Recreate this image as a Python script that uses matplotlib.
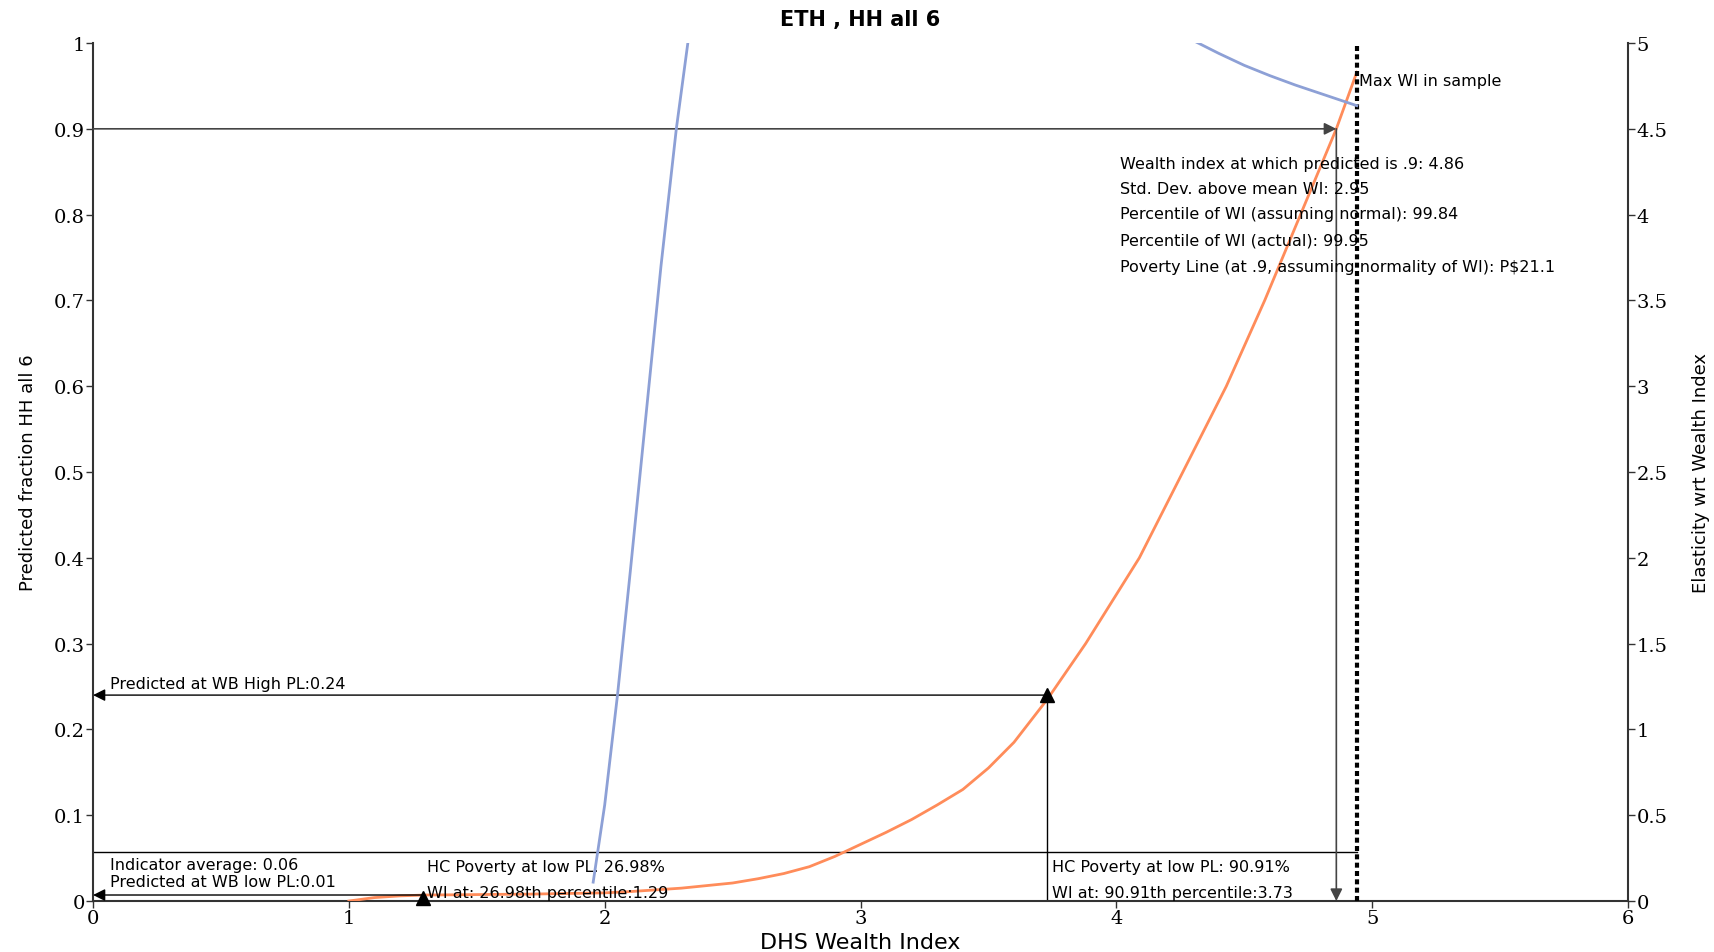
import numpy as np
import matplotlib
matplotlib.use('Agg')
import matplotlib.pyplot as plt

##############################################################################
# DATA
title = 'ETH , HH all 6'
x_label = 'DHS Wealth Index'
y_label_left = 'Predicted fraction HH all 6'
y_label_right = 'Elasticity wrt Wealth Index'

# predicted fraction (orange, left axis)
wi_pred = [1.00, 1.10, 1.20, 1.30, 1.40, 1.50, 1.60, 1.70, 1.80, 1.90,
           2.00, 2.10, 2.20, 2.30, 2.40, 2.50, 2.60, 2.70, 2.80, 2.90,
           3.00, 3.10, 3.20, 3.30, 3.40, 3.50, 3.60, 3.73, 3.88, 4.09,
           4.26, 4.43, 4.58, 4.72, 4.86, 4.94]
pred = [0.000, 0.004, 0.006, 0.007, 0.0072, 0.0075, 0.0078, 0.008, 0.0085, 0.009,
        0.0095, 0.011, 0.013, 0.015, 0.018, 0.021, 0.026, 0.032, 0.040, 0.052,
        0.066, 0.080, 0.095, 0.112, 0.130, 0.155, 0.185, 0.235, 0.300, 0.400,
        0.500, 0.600, 0.700, 0.800, 0.900, 0.966]

# elasticity (blue, right axis), two visible pieces, clipped at 5
wi_elast_1 = [1.955, 2.00, 2.05, 2.10, 2.16, 2.22, 2.28, 2.325, 2.36]
elast_1 = [0.11, 0.56, 1.20, 1.92, 2.81, 3.70, 4.50, 5.00, 5.40]
wi_elast_2 = [4.28, 4.32, 4.40, 4.50, 4.60, 4.70, 4.80, 4.94]
elast_2 = [5.03, 5.00, 4.94, 4.87, 4.81, 4.755, 4.705, 4.635]

# summary values
max_wi = 4.94
wi_at_09 = 4.86
indicator_avg = 0.0576
wb_low_wi = 1.29
wb_low_pred = 0.007
wb_high_wi = 3.73
wb_high_pred = 0.24

info_lines = ['Wealth index at which predicted is .9: 4.86',
              'Std. Dev. above mean WI: 2.95',
              'Percentile of WI (assuming normal): 99.84',
              'Percentile of WI (actual): 99.95',
              'Poverty Line (at .9, assuming normality of WI): P$21.1']

left_ticks = [0, 0.1, 0.2, 0.3, 0.4, 0.5, 0.6, 0.7, 0.8, 0.9, 1]
left_ticklabels = ['0', '0.1', '0.2', '0.3', '0.4', '0.5', '0.6', '0.7', '0.8', '0.9', '1']
right_ticks = [0, 0.5, 1, 1.5, 2, 2.5, 3, 3.5, 4, 4.5, 5]
right_ticklabels = ['0', '0.5', '1', '1.5', '2', '2.5', '3', '3.5', '4', '4.5', '5']
x_ticks = [0, 1, 2, 3, 4, 5, 6]

##############################################################################
# STYLE
orange = '#FF8C5A'
blue = '#8DA0D6'
tick_font = dict(family='DejaVu Serif', size=14)
note_size = 11.5

##############################################################################
# PLOT
fig = plt.figure(figsize=(17.14, 9.53), dpi=100)
ax = fig.add_axes([0.0543, 0.0535, 0.8955, 0.9003])
ax2 = ax.twinx()

ax.set_xlim(0, 6)
ax.set_ylim(0, 1)
ax2.set_ylim(0, 5)

ax.plot(wi_pred, pred, color=orange, lw=2, zorder=3)
ax2.plot(wi_elast_1, elast_1, color=blue, lw=2)
ax2.plot(wi_elast_2, elast_2, color=blue, lw=2)

# max WI dashed line
ax.plot([max_wi, max_wi], [0, 1], color='black', lw=3, linestyle=(0, (1.2, 0.8)), zorder=4)
ax.text(max_wi + 0.01, 0.956, 'Max WI in sample', fontsize=note_size, va='center')

# predicted .9 arrows
arrow_kw = dict(arrowstyle='-|>', mutation_scale=18, shrinkA=0, shrinkB=0)
ax.annotate('', xy=(wi_at_09, 0.9), xytext=(0, 0.9),
            arrowprops=dict(color='#444444', lw=1.2, **arrow_kw))
ax.annotate('', xy=(wi_at_09, 0), xytext=(wi_at_09, 0.9),
            arrowprops=dict(color='#444444', lw=1.2, **arrow_kw))
info_y = [0.860, 0.831, 0.801, 0.771, 0.740]
for txt, yy in zip(info_lines, info_y):
    ax.text(4.015, yy, txt, fontsize=note_size, va='center')

# indicator average
ax.plot([0, max_wi], [indicator_avg, indicator_avg], color='black', lw=1)
ax.text(0.066, 0.042, 'Indicator average: 0.06', fontsize=note_size, va='center')
ax.text(0.066, 0.023, 'Predicted at WB low PL:0.01', fontsize=note_size, va='center')

# WB low PL
ax.annotate('', xy=(0, wb_low_pred), xytext=(wb_low_wi, wb_low_pred),
            arrowprops=dict(color='black', lw=1, **arrow_kw))
ax.plot(wb_low_wi, 0.004, marker='^', color='black', markersize=10, clip_on=False, zorder=5)
ax.text(1.307, 0.040, 'HC Poverty at low PL: 26.98%', fontsize=note_size, va='center')
ax.text(1.307, 0.0105, 'WI at: 26.98th percentile:1.29', fontsize=note_size, va='center')

# WB high PL
ax.annotate('', xy=(0, wb_high_pred), xytext=(wb_high_wi, wb_high_pred),
            arrowprops=dict(color='black', lw=1, **arrow_kw))
ax.plot([wb_high_wi, wb_high_wi], [0, wb_high_pred], color='black', lw=1)
ax.plot(wb_high_wi, wb_high_pred, marker='^', color='black', markersize=10, zorder=5)
ax.text(0.066, 0.253, 'Predicted at WB High PL:0.24', fontsize=note_size, va='center')
ax.text(3.748, 0.040, 'HC Poverty at low PL: 90.91%', fontsize=note_size, va='center')
ax.text(3.748, 0.0105, 'WI at: 90.91th percentile:3.73', fontsize=note_size, va='center')

# axes styling
for a in (ax, ax2):
    a.spines['top'].set_visible(False)
ax.spines['right'].set_visible(False)
ax2.spines['left'].set_visible(False)
ax2.spines['bottom'].set_visible(False)
for s in ('left', 'bottom'):
    ax.spines[s].set_color('#333333')
    ax.spines[s].set_linewidth(1.5)
ax2.spines['right'].set_color('#333333')
ax2.spines['right'].set_linewidth(1.5)

ax.set_xticks(x_ticks)
ax.set_xticklabels([str(t) for t in x_ticks], fontdict=tick_font)
ax.set_yticks(left_ticks)
ax.set_yticklabels(left_ticklabels, fontdict=tick_font)
ax2.set_yticks(right_ticks)
ax2.set_yticklabels(right_ticklabels, fontdict=tick_font)
ax.tick_params(axis='both', length=5, width=1, pad=1, color='#333333')
ax2.tick_params(axis='y', length=5, width=1, pad=1, color='#333333')

ax.set_xlabel(x_label, fontsize=16, labelpad=3)
ax.set_ylabel(y_label_left, fontsize=13, family=['Liberation Sans Narrow', 'DejaVu Sans'], labelpad=12)
ax2.set_ylabel(y_label_right, fontsize=13, family=['Liberation Sans Narrow', 'DejaVu Sans'], labelpad=18)
ax.set_title(title, fontsize=15, fontweight='bold', pad=13)

plt.savefig('out.png', dpi=100)
plt.close()
